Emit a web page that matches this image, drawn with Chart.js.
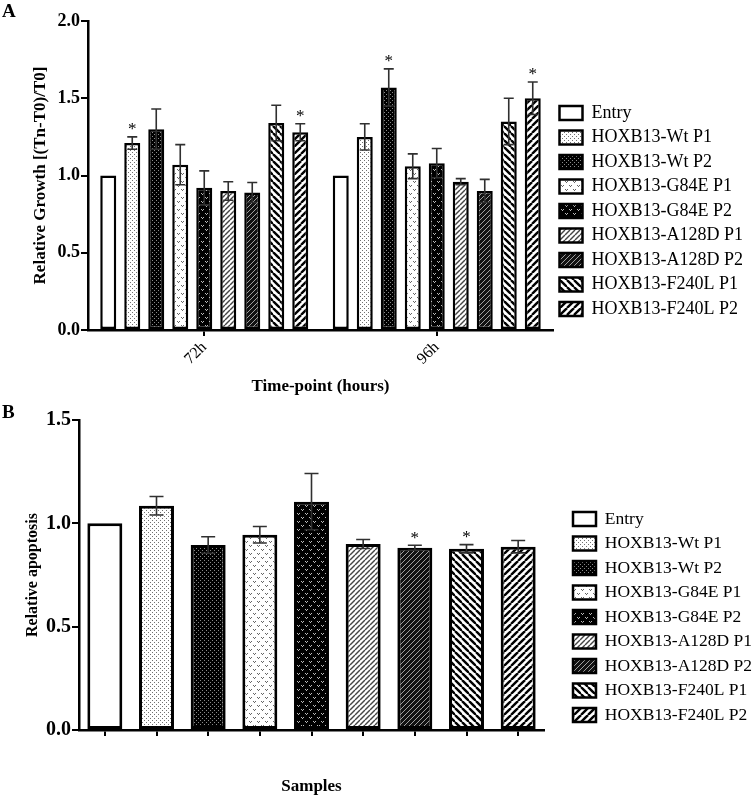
<!DOCTYPE html>
<html>
<head>
<meta charset="utf-8">
<script src="https://cdn.jsdelivr.net/npm/chart.js@4.4.1/dist/chart.umd.min.js"></script>
<style>
  html, body { margin: 0; padding: 0; background: #ffffff; }
  #wrap { position: relative; width: 756px; height: 798px; overflow: hidden; }
  .panel { position: absolute; left: 0; width: 756px; }
  .letter { position: absolute; left: 2px; font: bold 19px 'Liberation Serif', 'Times New Roman', serif; color: #000; }
</style>
</head>
<body>
<div id="wrap">
  <div class="panel" style="top:0;height:400px;"><canvas id="chartA" width="756" height="400"></canvas></div>
  <div class="panel" style="top:400px;height:398px;"><canvas id="chartB" width="756" height="398"></canvas></div>
  <div class="letter" style="top:0px;">A</div>
  <div class="letter" style="top:401px;">B</div>
</div>
<script>
// ---------------- DATA ----------------
const seriesNames = ['Entry', 'HOXB13-Wt P1', 'HOXB13-Wt P2', 'HOXB13-G84E P1', 'HOXB13-G84E P2',
                     'HOXB13-A128D P1', 'HOXB13-A128D P2', 'HOXB13-F240L P1', 'HOXB13-F240L P2'];
const timePoints = ['72h', '96h'];
const growth72 = [1.00, 1.21, 1.30, 1.07, 0.92, 0.90, 0.89, 1.34, 1.28];
const growth96 = [1.00, 1.25, 1.57, 1.06, 1.08, 0.96, 0.90, 1.35, 1.50];
const growthErr72 = [0, 0.04, 0.13, 0.13, 0.11, 0.06, 0.065, 0.115, 0.055];
const growthErr96 = [0, 0.085, 0.12, 0.08, 0.095, 0.02, 0.075, 0.15, 0.105];
const growthSig72 = [0, 1, 0, 0, 0, 0, 0, 0, 1];
const growthSig96 = [0, 0, 1, 0, 0, 0, 0, 0, 1];
const growthTicks = [0, 0.5, 1.0, 1.5, 2.0];

const apoptosis = [1.00, 1.085, 0.895, 0.945, 1.105, 0.90, 0.882, 0.877, 0.887];
const apoptosisErr = [0, 0.045, 0.04, 0.04, 0.136, 0.022, 0.012, 0.02, 0.03];
const apoptosisSig = [0, 0, 0, 0, 0, 0, 1, 1, 0];
const apoptosisTicks = [0, 0.5, 1.0, 1.5];

// ---------------- FILL PATTERNS ----------------
const SERIF = "'Liberation Serif', 'Times New Roman', serif";
function mkPattern(w, h, bg, draw) {
  const c = document.createElement('canvas');
  c.width = w; c.height = h;
  const g = c.getContext('2d');
  g.fillStyle = bg; g.fillRect(0, 0, w, h);
  draw(g, w, h);
  return g.createPattern(c, 'repeat');
}
function dots(col) { return (g) => { g.fillStyle = col; g.fillRect(0, 0, 1, 1); g.fillRect(2, 2, 1, 1); }; }
function vees(col) {
  return (g) => {
    g.fillStyle = col;
    [[1,1],[2,2],[3,1],[5,5],[6,6],[7,5]].forEach(p => g.fillRect(p[0], p[1], 1, 1));
  };
}
function stripes(col, lw, dir) {
  return (g, w, h) => {
    g.strokeStyle = col; g.lineWidth = lw;
    for (let k = -1; k <= 1; k++) {
      g.beginPath();
      if (dir > 0) { g.moveTo(k * w, h); g.lineTo(k * w + w, 0); }
      else { g.moveTo(k * w, 0); g.lineTo(k * w + w, h); }
      g.stroke();
    }
  };
}
const fills = [
  '#ffffff',
  mkPattern(4, 4, '#ffffff', dots('#707070')),
  mkPattern(4, 4, '#000000', dots('#8a8a8a')),
  mkPattern(8, 8, '#ffffff', vees('#666666')),
  mkPattern(8, 8, '#000000', vees('#bbbbbb')),
  mkPattern(5, 5, '#ffffff', stripes('#444444', 1.4, 1)),
  mkPattern(5, 5, '#111111', (g, w, h) => { stripes('#a0a0a0', 1.0, 1)(g, w, h); }),
  mkPattern(7, 7, '#ffffff', stripes('#000000', 2.4, -1)),
  mkPattern(7, 7, '#ffffff', stripes('#000000', 2.4, 1))
];

// ---------------- PLUGINS ----------------
const errorBarPlugin = {
  id: 'errbars',
  afterDatasetsDraw(chart, args, opts) {
    const ctx = chart.ctx;
    const ys = chart.scales.y;
    chart.data.datasets.forEach((ds, di) => {
      const meta = chart.getDatasetMeta(di);
      meta.data.forEach((bar, i) => {
        const v = ds.data[i];
        const e = ds.errors[i];
        const top = ys.getPixelForValue(v + e);
        ctx.save();
        if (e > 0) {
          const bot = ys.getPixelForValue(v - e);
          ctx.strokeStyle = '#303030';
          ctx.lineWidth = 1.6;
          ctx.beginPath();
          ctx.moveTo(bar.x, top); ctx.lineTo(bar.x, bot);
          ctx.moveTo(bar.x - opts.cap, top); ctx.lineTo(bar.x + opts.cap, top);
          ctx.moveTo(bar.x - opts.cap, bot); ctx.lineTo(bar.x + opts.cap, bot);
          ctx.stroke();
        }
        if (ds.sig[i]) {
          ctx.fillStyle = '#000';
          ctx.font = '17px ' + SERIF;
          ctx.textAlign = 'center';
          ctx.textBaseline = 'middle';
          ctx.fillText('*', bar.x, top - 7);
        }
        ctx.restore();
      });
    });
  }
};

function legendOpts(titlePadTop, maxW, fontSize, pad) {
  return {
    display: true,
    position: 'right',
    align: 'start',
    maxWidth: maxW,
    title: { display: true, text: ' ', font: { size: 10 }, padding: { top: titlePadTop, bottom: 0 } },
    labels: {
      boxWidth: 23, boxHeight: 14, padding: pad, color: '#000',
      font: { family: SERIF, size: fontSize }
    }
  };
}

Chart.defaults.animation = false;

// ---------------- CHART A ----------------
new Chart(document.getElementById('chartA'), {
  type: 'bar',
  data: {
    labels: timePoints,
    datasets: seriesNames.map((name, i) => ({
      label: name,
      data: [growth72[i], growth96[i]],
      errors: [growthErr72[i], growthErr96[i]],
      sig: [growthSig72[i], growthSig96[i]],
      backgroundColor: fills[i],
      borderColor: '#000',
      borderWidth: 2.5,
      borderSkipped: false,
      barPercentage: 0.667,
      categoryPercentage: 0.929
    }))
  },
  options: {
    responsive: false,
    devicePixelRatio: 1,
    layout: { padding: { top: 21, right: 7, bottom: 0, left: 0 } },
    plugins: {
      legend: legendOpts(64.5, 196, 18, 6.5),
      tooltip: { enabled: false },
      errbars: { cap: 5 }
    },
    scales: {
      x: {
        afterFit: (s) => { s.height = 70; },
        grid: { display: true, drawOnChartArea: false, drawTicks: true, tickLength: 6, offset: false, color: '#000', lineWidth: 2 },
        border: { display: true, color: '#000', width: 2.5 },
        ticks: { color: '#000', font: { family: SERIF, size: 16 }, minRotation: 45, maxRotation: 45, padding: 2 },
        title: { display: true, text: 'Time-point (hours)', color: '#000', font: { family: SERIF, size: 17, weight: 'bold' }, padding: { top: 0, bottom: 3 } }
      },
      y: {
        min: 0, max: 2,
        afterFit: (s) => { s.width = 88; },
        afterBuildTicks: (s) => { s.ticks = growthTicks.map(v => ({ value: v })); },
        grid: { display: true, drawOnChartArea: false, drawTicks: true, tickLength: 7, color: '#000', lineWidth: 2 },
        border: { display: true, color: '#000', width: 2.5 },
        ticks: { color: '#000', font: { family: SERIF, size: 18, weight: 'bold' }, padding: 1, callback: (v) => Number(v).toFixed(1) },
        title: { display: true, text: 'Relative Growth [(Tn-T0)/T0]', color: '#000', font: { family: SERIF, size: 17, weight: 'bold' }, padding: { top: 30, bottom: 0 } }
      }
    }
  },
  plugins: [errorBarPlugin]
});

// ---------------- CHART B ----------------
const legendB = legendOpts(71.25, 190, 17.5, 7);
legendB.labels.generateLabels = (chart) => seriesNames.map((name, i) => ({
  text: name, fillStyle: fills[i], strokeStyle: '#000', lineWidth: 2.5,
  hidden: false, index: i, datasetIndex: 0, fontColor: '#000'
}));

new Chart(document.getElementById('chartB'), {
  type: 'bar',
  data: {
    labels: seriesNames,
    datasets: [{
      label: 'Relative apoptosis',
      data: apoptosis,
      errors: apoptosisErr,
      sig: apoptosisSig,
      backgroundColor: fills,
      borderColor: '#000',
      borderWidth: 3,
      borderSkipped: false,
      barPercentage: 0.677,
      categoryPercentage: 1.0
    }]
  },
  options: {
    responsive: false,
    devicePixelRatio: 1,
    layout: { padding: { top: 20, right: 0, bottom: 0, left: 0 } },
    plugins: {
      legend: legendB,
      tooltip: { enabled: false },
      errbars: { cap: 7 }
    },
    scales: {
      x: {
        afterFit: (s) => { s.height = 68; },
        grid: { display: true, drawOnChartArea: false, drawTicks: true, tickLength: 6, offset: false, color: '#000', lineWidth: 2 },
        border: { display: true, color: '#000', width: 2.5 },
        ticks: { color: '#000', font: { family: SERIF, size: 12 }, maxRotation: 0, autoSkip: false, callback: () => '' },
        title: { display: true, text: 'Samples', color: '#000', font: { family: SERIF, size: 17, weight: 'bold' }, padding: { top: 0, bottom: 1 } }
      },
      y: {
        min: 0, max: 1.5,
        afterFit: (s) => { s.width = 79; },
        afterBuildTicks: (s) => { s.ticks = apoptosisTicks.map(v => ({ value: v })); },
        grid: { display: true, drawOnChartArea: false, drawTicks: true, tickLength: 7, color: '#000', lineWidth: 2 },
        border: { display: true, color: '#000', width: 2.5 },
        ticks: { color: '#000', font: { family: SERIF, size: 20, weight: 'bold' }, padding: 1, callback: (v) => Number(v).toFixed(1) },
        title: { display: true, text: 'Relative apoptosis', color: '#000', font: { family: SERIF, size: 16, weight: 'bold' }, padding: { top: 23, bottom: 0 } }
      },
      spacer: {
        type: 'linear', position: 'right', display: true,
        afterFit: (s) => { s.width = 22; },
        grid: { display: false }, border: { display: false }, ticks: { display: false }
      }
    }
  },
  plugins: [errorBarPlugin]
});
</script>
</body>
</html>
